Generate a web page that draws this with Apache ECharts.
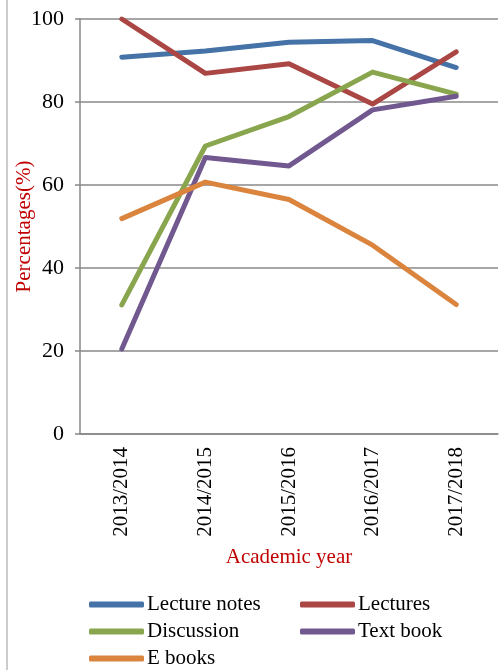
<!DOCTYPE html>
<html>
<head>
<meta charset="utf-8">
<script src="https://cdn.jsdelivr.net/npm/echarts@6/dist/echarts.min.js"></script>
<style>html,body{margin:0;padding:0;background:#fff}#c{width:499px;height:670px}</style>
</head>
<body>
<div id="c"></div>
<script>
var categories = ['2013/2014', '2014/2015', '2015/2016', '2016/2017', '2017/2018'];
var lectureNotes = [90.8, 92.3, 94.4, 94.8, 88.3];
var lectures = [100, 86.9, 89.2, 79.5, 92.1];
var discussion = [31.1, 69.4, 76.5, 87.2, 81.9];
var textBook = [20.5, 66.6, 64.6, 78.1, 81.4];
var eBooks = [51.9, 60.7, 56.5, 45.5, 31.2];
var seriesNames = ['Lecture notes', 'Lectures', 'Discussion', 'Text book', 'E books'];
var seriesData = [lectureNotes, lectures, discussion, textBook, eBooks];
var colors = ['#4572A7', '#AA4643', '#89A54E', '#71588F', '#DB843D'];

var font = '"Liberation Serif", "Times New Roman", serif';
var legendPos = [[89, 594], [300, 594], [89, 621], [300, 621], [89, 648]];

var chart = echarts.init(document.getElementById('c'));
chart.setOption({
  animation: false,
  color: colors,
  grid: { left: 80, right: 1, top: 19, bottom: 236, containLabel: false, outerBoundsMode: 'none' },
  legend: seriesNames.map(function (n, i) {
    return {
      data: [n], left: legendPos[i][0], top: legendPos[i][1],
      icon: 'roundRect', itemWidth: 55, itemHeight: 6,
      textStyle: { fontFamily: font, fontSize: 21, color: '#000', padding: [0, 0, 0, -2] },
      padding: 0
    };
  }),
  xAxis: {
    type: 'category', data: categories, boundaryGap: true,
    axisLine: { lineStyle: { color: '#888', width: 1.5 } },
    axisTick: { length: 6, lineStyle: { color: '#888', width: 1.5 } },
    axisLabel: { rotate: 90, margin: 13, fontFamily: font, fontSize: 21, color: '#000' },
    name: 'Academic year', nameLocation: 'middle', nameGap: 113, nameMoveOverlap: false,
    nameTextStyle: { fontFamily: font, fontSize: 21, color: '#C00000' }
  },
  yAxis: {
    type: 'value', min: 0, max: 100, interval: 20,
    axisLine: { show: true, lineStyle: { color: '#888', width: 1.5 } },
    axisTick: { show: true, length: 5, lineStyle: { color: '#888', width: 1.5 } },
    splitLine: { lineStyle: { color: '#888', width: 1.5 } },
    axisLabel: { margin: 16, fontFamily: font, fontSize: 22, color: '#000' },
    name: 'Percentages(%)', nameLocation: 'middle', nameGap: 45, nameMoveOverlap: false,
    nameTextStyle: { fontFamily: font, fontSize: 21, color: '#C00000' }
  },
  graphic: [{
    type: 'line', shape: { x1: 7, y1: 0, x2: 7, y2: 670 },
    style: { stroke: '#999', lineWidth: 1 }
  }],
  series: seriesNames.map(function (n, i) {
    return {
      name: n, type: 'line', data: seriesData[i],
      symbol: 'none',
      lineStyle: { width: 5, cap: 'round', join: 'round' }
    };
  })
});
</script>
</body>
</html>
